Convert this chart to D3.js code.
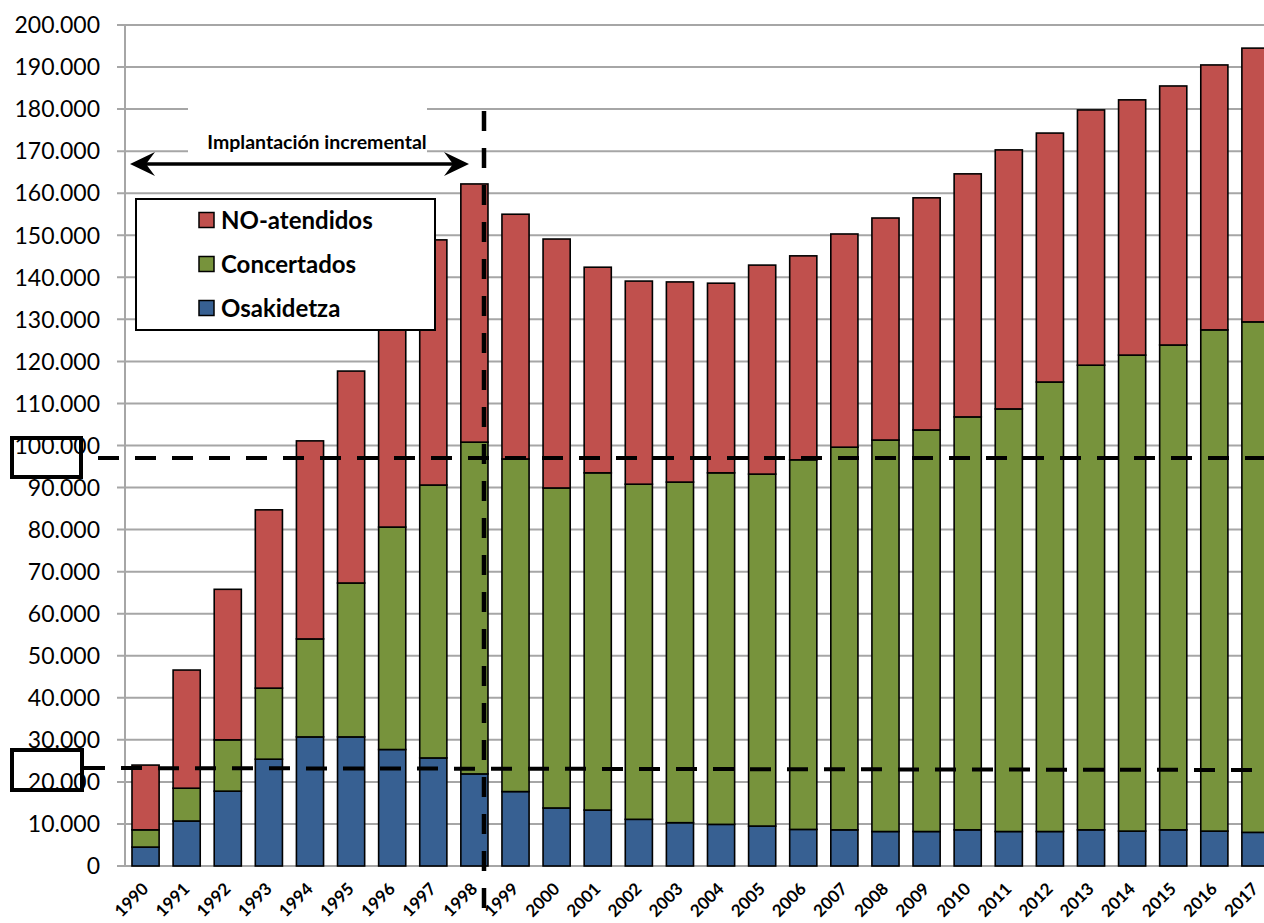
<!DOCTYPE html>
<html>
<head>
<meta charset="utf-8">
<script src="https://d3js.org/d3.v7.min.js"></script>
<style>
  body { margin: 0; background: #fff; }
  svg { display: block; }
  .yLb { font-family: Lato, "Open Sans", sans-serif; font-size: 23px; fill: #000; }
  .xLb { font-family: Lato, "Open Sans", sans-serif; font-size: 17px; font-weight: bold; fill: #000; }
  .legLb { font-family: Lato, "Open Sans", sans-serif; font-size: 24px; font-weight: bold; fill: #000; }
  .annLb { font-family: Lato, "Open Sans", sans-serif; font-size: 19.5px; font-weight: bold; fill: #000; }
</style>
</head>
<body>
<div id="main"></div>
<script>
// years on the x axis
var years = ["1990","1991","1992","1993","1994","1995","1996","1997","1998","1999",
             "2000","2001","2002","2003","2004","2005","2006","2007","2008","2009",
             "2010","2011","2012","2013","2014","2015","2016","2017"];
// cumulative tops (blue, blue+green, total)
var osakidetza = [4500,10700,17800,25400,30700,30700,27700,25700,21900,17700,
                  13800,13300,11100,10300,9900,9500,8700,8600,8200,8200,
                  8600,8200,8200,8600,8300,8600,8300,8000];
var topConcertados = [8600,18500,30000,42300,54000,67300,80600,90600,100800,96800,
                      89900,93500,90800,91300,93500,93200,96600,99600,101300,103700,
                      106800,108700,115100,119100,121500,123900,127500,129400];
var totales = [24000,46600,65800,84700,101100,117700,134000,148900,162200,155000,
               149100,142400,139100,138900,138600,142900,145100,150300,154100,158900,
               164600,170300,174300,179800,182200,185500,190500,194500];
var seriesNames = ["NO-atendidos","Concertados","Osakidetza"];
var seriesColors = {"NO-atendidos":"#C0504D", "Concertados":"#77933C", "Osakidetza":"#376092"};
var yTicks = [0,10000,20000,30000,40000,50000,60000,70000,80000,90000,100000,
              110000,120000,130000,140000,150000,160000,170000,180000,190000,200000];

var ctx = {
    w: 1264,
    h: 923,
    left: 125,
    right: 1276,
    top: 25,
    bottom: 866,
};

var fmt = d3.formatLocale({decimal: ",", thousands: ".", grouping: [3], currency: ["", "€"]}).format(",d");

var initSVGcanvas = function(svgEl){
    ctx.xScale = d3.scaleBand().domain(years)
                   .range([ctx.left, ctx.right])
                   .paddingInner(0.34).paddingOuter(0.17);
    ctx.yScale = d3.scaleLinear().domain([0, 200000])
                   .range([ctx.bottom, ctx.top]);
    var bkg = svgEl.select("#bkgG");
    // gridlines + tick marks
    bkg.selectAll("line.grid").data(yTicks).enter().append("line")
       .attr("x1", ctx.left - 8).attr("x2", ctx.w)
       .attr("y1", function(d){ return ctx.yScale(d); })
       .attr("y2", function(d){ return ctx.yScale(d); })
       .attr("stroke", "#a6a6a6").attr("stroke-width", 2);
    // y axis line
    bkg.append("line")
       .attr("x1", ctx.left).attr("x2", ctx.left)
       .attr("y1", ctx.top).attr("y2", ctx.bottom)
       .attr("stroke", "#a6a6a6").attr("stroke-width", 2);
    // y labels
    bkg.selectAll("text.yLb").data(yTicks).enter().append("text")
       .classed("yLb", true)
       .attr("x", 100)
       .attr("y", function(d){ return ctx.yScale(d); })
       .attr("dy", "0.36em")
       .attr("text-anchor", "end")
       .text(function(d){ return fmt(d); });
    // x labels, rotated
    bkg.selectAll("text.xLb").data(years).enter().append("text")
       .classed("xLb", true)
       .attr("text-anchor", "end")
       .attr("transform", function(d){
           var cx = ctx.xScale(d) + ctx.xScale.bandwidth()/2 + 4;
           return "translate(" + cx + "," + 890 + ") rotate(-45)";
       })
       .text(function(d){ return d; });
};

var populateSVGcanvas = function(svgEl){
    var rows = years.map(function(y, i){
        return {year: y, "Osakidetza": osakidetza[i],
                "Concertados": topConcertados[i] - osakidetza[i],
                "NO-atendidos": totales[i] - topConcertados[i]};
    });
    var stack = d3.stack().keys(["Osakidetza","Concertados","NO-atendidos"]);
    var layers = stack(rows);
    var barsG = svgEl.select("#barsG");
    barsG.selectAll("g").data(layers).enter().append("g")
         .attr("fill", function(d){ return seriesColors[d.key]; })
         .selectAll("rect").data(function(d){ return d; }).enter().append("rect")
         .attr("x", function(d){ return ctx.xScale(d.data.year); })
         .attr("width", ctx.xScale.bandwidth())
         .attr("y", function(d){ return ctx.yScale(d[1]); })
         .attr("height", function(d){ return ctx.yScale(d[0]) - ctx.yScale(d[1]); })
         .attr("stroke", "#000").attr("stroke-width", 1.6);
};

var drawAnnotations = function(svgEl){
    var ann = svgEl.select("#annG");
    // white patch behind the annotation text
    ann.append("rect").attr("x", 188).attr("y", 104).attr("width", 239).attr("height", 54)
       .attr("fill", "#fff");
    ann.append("text").classed("annLb", true)
       .attr("x", 317).attr("y", 149).attr("text-anchor", "middle")
       .text("Implantación incremental");
    // double arrow
    ann.append("line").attr("x1", 140).attr("x2", 458).attr("y1", 164).attr("y2", 164)
       .attr("stroke", "#000").attr("stroke-width", 3.5);
    ann.append("path").attr("d", "M130,164 L155,152 L146,164 L155,176 Z").attr("fill", "#000");
    ann.append("path").attr("d", "M469,164 L444,152 L453,164 L444,176 Z").attr("fill", "#000");

    // legend
    var leg = svgEl.select("#legG");
    leg.append("rect").attr("x", 136).attr("y", 199).attr("width", 299).attr("height", 131)
       .attr("fill", "#fff").attr("stroke", "#000").attr("stroke-width", 2);
    var item = leg.selectAll("g.item").data(seriesNames).enter().append("g")
       .attr("transform", function(d, i){ return "translate(199," + (220 + i*44) + ")"; });
    item.append("rect").attr("x", 0).attr("y", -7.5).attr("width", 15).attr("height", 15)
        .attr("fill", function(d){ return seriesColors[d]; })
        .attr("stroke", "#000").attr("stroke-width", 1.5);
    item.append("text").classed("legLb", true)
        .attr("x", 22).attr("dy", "0.36em")
        .text(function(d){ return d; });

    // dashed reference lines
    var top = svgEl.select("#topG");
    top.append("line").attr("x1", 98).attr("x2", ctx.w).attr("y1", 458).attr("y2", 458)
       .attr("stroke", "#000").attr("stroke-width", 4).attr("stroke-dasharray", "21,16");
    top.append("line").attr("x1", 84).attr("x2", ctx.w).attr("y1", 768).attr("y2", 770)
       .attr("stroke", "#000").attr("stroke-width", 4).attr("stroke-dasharray", "21,16");
    top.append("line").attr("x1", 484).attr("x2", 484).attr("y1", 111).attr("y2", ctx.h)
       .attr("stroke", "#000").attr("stroke-width", 4.5).attr("stroke-dasharray", "20,17");
    // boxes round 100.000 and 20.000
    top.append("rect").attr("x", 12).attr("y", 438).attr("width", 69).attr("height", 39)
       .attr("fill", "none").attr("stroke", "#000").attr("stroke-width", 4);
    top.append("rect").attr("x", 12).attr("y", 750).attr("width", 70).attr("height", 40)
       .attr("fill", "none").attr("stroke", "#000").attr("stroke-width", 4);
};

var createViz = function(){
    var svgEl = d3.select("#main").append("svg")
                  .attr("width", ctx.w).attr("height", ctx.h);
    svgEl.append("g").attr("id", "bkgG");
    svgEl.append("g").attr("id", "barsG");
    svgEl.append("g").attr("id", "annG");
    svgEl.append("g").attr("id", "legG");
    svgEl.append("g").attr("id", "topG");
    initSVGcanvas(svgEl);
    populateSVGcanvas(svgEl);
    drawAnnotations(svgEl);
};

createViz();
</script>
</body>
</html>
